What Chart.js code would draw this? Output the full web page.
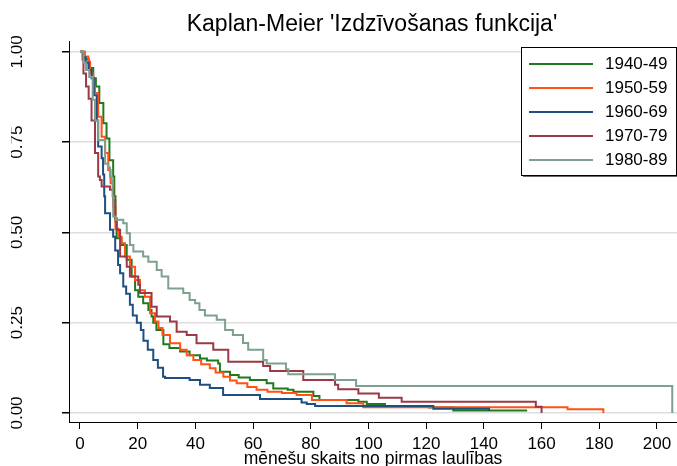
<!DOCTYPE html>
<html>
<head>
<meta charset="utf-8">
<script src="https://cdn.jsdelivr.net/npm/chart.js@4.4.1/dist/chart.umd.min.js"></script>
<style>
  html, body { margin: 0; padding: 0; background: #fff; }
  #wrap { width: 677px; height: 466px; position: relative; }
</style>
</head>
<body>
<div id="wrap"><canvas id="km"></canvas></div>
<script>
const chartTitle = "Kaplan-Meier 'Izdzīvošanas funkcija'";
const xTitle = 'mēnešu skaits no pirmas laulības';

const xTicks = [0, 20, 40, 60, 80, 100, 120, 140, 160, 180, 200];
const yTicks = [0, 0.25, 0.5, 0.75, 1];
const yTickLabels = ['0.00', '0.25', '0.50', '0.75', '1.00'];

const seriesNames = ['1940-49', '1950-59', '1960-69', '1970-79', '1980-89'];
const seriesColors = ['#1f7a1f', '#ff5214', '#1f4f80', '#993a46', '#7f9f8f'];

// laiks (mēneši) un izdzīvošanas vērtība pēc katra soļa
const t1940 = [0, 1.5, 3, 4.6, 5.5, 6.7, 8.1, 9.2, 10.2, 11.5, 11.9, 12.3, 12.7, 14.4, 16.2, 17.9, 19.1, 20.2, 21.9, 23.7, 24.8, 25.4, 26.5, 28.9, 31, 34.7, 38, 41.6, 44, 47.9, 48.5, 52, 55, 58.9, 64.7, 67, 72, 74, 80.9, 83, 96.5, 99.4, 105.7, 121, 129.4, 155];
const s1940 = [1, 0.98, 0.955, 0.927, 0.904, 0.858, 0.802, 0.76, 0.70, 0.655, 0.6, 0.53, 0.484, 0.465, 0.424, 0.378, 0.34, 0.322, 0.304, 0.285, 0.267, 0.25, 0.23, 0.19, 0.18, 0.17, 0.16, 0.151, 0.145, 0.137, 0.114, 0.105, 0.098, 0.091, 0.082, 0.068, 0.064, 0.059, 0.047, 0.036, 0.031, 0.025, 0.019, 0.015, 0.007, 0.007];

const t1950 = [0, 1.7, 2.9, 3.5, 4.6, 5.2, 6.3, 7.5, 8.7, 9.8, 10.6, 11.5, 12.3, 13.3, 14.4, 15.6, 17.3, 19.1, 20.8, 22.5, 24.3, 26, 27.2, 28.6, 31.2, 34.7, 37, 39.3, 42, 45, 47, 49.7, 52, 54.3, 58, 61.2, 65, 70, 75.1, 80.4, 92.4, 98.2, 169, 181.4];
const s1950 = [1, 0.987, 0.973, 0.94, 0.904, 0.886, 0.82, 0.765, 0.72, 0.673, 0.636, 0.57, 0.51, 0.488, 0.47, 0.433, 0.405, 0.368, 0.34, 0.322, 0.276, 0.253, 0.235, 0.216, 0.193, 0.175, 0.16, 0.147, 0.135, 0.124, 0.112, 0.10, 0.09, 0.082, 0.072, 0.064, 0.059, 0.055, 0.05, 0.036, 0.027, 0.016, 0.010, 0];

const t1960 = [0, 1, 2, 3, 4, 4.8, 5.8, 6.3, 7.5, 8.0, 8.4, 8.7, 10.4, 11.5, 12.2, 13.2, 13.9, 15, 16, 17.3, 18.3, 19.7, 21.1, 22, 23.5, 25.4, 27, 28.8, 29.5, 38, 41.6, 45, 49.6, 62.4, 76.8, 78.6, 81.5, 122.5, 141.8];
const s1960 = [1, 0.985, 0.97, 0.95, 0.927, 0.88, 0.81, 0.738, 0.705, 0.66, 0.60, 0.553, 0.507, 0.488, 0.45, 0.41, 0.387, 0.35, 0.33, 0.30, 0.27, 0.25, 0.23, 0.20, 0.175, 0.147, 0.125, 0.10, 0.097, 0.091, 0.078, 0.069, 0.05, 0.039, 0.029, 0.025, 0.019, 0.012, 0.006];

const t1970 = [0, 0.9, 1.2, 2.1, 3, 4, 5.2, 6.3, 6.9, 7.5, 10.4, 11.5, 12.2, 12.7, 13.9, 16.2, 17.3, 20.2, 20.8, 24.8, 26.6, 31.2, 33.5, 37, 40.4, 46.2, 51.4, 63.5, 65.9, 77.4, 88.4, 89.5, 96.5, 103.6, 111.5, 158, 160];
const s1970 = [1, 0.978, 0.94, 0.904, 0.87, 0.81, 0.72, 0.655, 0.645, 0.627, 0.618, 0.59, 0.54, 0.507, 0.433, 0.405, 0.378, 0.355, 0.332, 0.294, 0.267, 0.253, 0.225, 0.216, 0.193, 0.175, 0.142, 0.13, 0.116, 0.091, 0.078, 0.066, 0.054, 0.042, 0.031, 0.0175, 0];

const t1980 = [0, 1.2, 2.1, 3.2, 4.4, 5.2, 6.3, 8.7, 9.8, 10.4, 11, 11.3, 11.5, 12.5, 15, 16.2, 17.3, 18.5, 21.9, 23.7, 26.6, 28.3, 30.6, 35.8, 38, 39.9, 41.4, 43.3, 47.4, 50.3, 53, 56.5, 58.3, 63.5, 64.7, 71.4, 72.2, 88.4, 95.7, 205.3];
const s1980 = [1, 0.97, 0.95, 0.93, 0.867, 0.81, 0.756, 0.69, 0.68, 0.655, 0.645, 0.60, 0.544, 0.535, 0.525, 0.498, 0.465, 0.447, 0.433, 0.419, 0.396, 0.378, 0.345, 0.332, 0.313, 0.304, 0.285, 0.27, 0.258, 0.23, 0.216, 0.194, 0.175, 0.147, 0.137, 0.121, 0.107, 0.091, 0.075, 0];

const seriesTimes = [t1940, t1950, t1960, t1970, t1980];
const seriesSurv = [s1940, s1950, s1960, s1970, s1980];

const FONT = '"Liberation Sans", Arial, sans-serif';

function toPoints(times, surv) {
    return times.map((t, i) => ({ x: t, y: surv[i] }));
}

/**
 * Virsraksts, vertikālās y ass etiķetes un leģenda ar rāmi.
 */
const stataDecor = {
    id: 'stataDecor',
    afterDraw(chart) {
        const ctx = chart.ctx;
        const yScale = chart.scales.y;
        ctx.save();
        ctx.fillStyle = '#000';

        ctx.font = '23px ' + FONT;
        ctx.textAlign = 'center';
        ctx.textBaseline = 'alphabetic';
        ctx.fillText(chartTitle, 372, 31);

        // y etiķetes oriģinālā ir nogrieztas pie kreisās malas
        ctx.save();
        ctx.beginPath();
        ctx.rect(11, 0, 60, 466);
        ctx.clip();
        ctx.font = '17px ' + FONT;
        yTicks.forEach((v, i) => {
            const py = yScale.getPixelForValue(v);
            ctx.save();
            ctx.translate(22, py);
            ctx.rotate(-Math.PI / 2);
            ctx.fillText(yTickLabels[i], 0, 0);
            ctx.restore();
        });
        ctx.restore();

        // leģendas rāmis
        const bx = 521, by = 47, bw = 155, bh = 128;
        ctx.fillStyle = '#fff';
        ctx.fillRect(bx, by, bw, bh);
        ctx.fillStyle = '#6a6a6a';
        ctx.fillRect(bx + 2, by + bh, bw, 2);
        ctx.strokeStyle = '#000';
        ctx.lineWidth = 1;
        ctx.strokeRect(bx + 0.5, by + 0.5, bw, bh);

        ctx.font = '17px ' + FONT;
        ctx.textAlign = 'left';
        ctx.textBaseline = 'middle';
        seriesNames.forEach((name, i) => {
            const ry = 64 + i * 24;
            ctx.strokeStyle = seriesColors[i];
            ctx.lineWidth = 2;
            ctx.beginPath();
            ctx.moveTo(529, ry);
            ctx.lineTo(593, ry);
            ctx.stroke();
            ctx.fillStyle = '#000';
            ctx.fillText(name, 605, ry);
        });
        ctx.restore();
    }
};

const datasets = seriesNames.map((name, i) => ({
    label: name,
    data: toPoints(seriesTimes[i], seriesSurv[i]),
    borderColor: seriesColors[i],
    borderWidth: 2,
    pointRadius: 0,
    fill: false,
    stepped: 'before',
    order: seriesNames.length - i
}));

new Chart(document.getElementById('km'), {
    type: 'line',
    data: { datasets },
    options: {
        responsive: true,
        maintainAspectRatio: false,
        animation: false,
        layout: { padding: { top: 41, left: 0, right: 0, bottom: 0 } },
        plugins: {
            legend: { display: false },
            title: { display: false },
            tooltip: { enabled: false }
        },
        scales: {
            x: {
                type: 'linear',
                min: -3.81,
                max: 206.94,
                afterBuildTicks: scale => { scale.ticks = xTicks.map(v => ({ value: v })); },
                afterFit: scale => { scale.height = 44; },
                grid: { drawOnChartArea: false, drawTicks: true, tickLength: 7, color: '#000' },
                border: { color: '#000', width: 1 },
                ticks: { color: '#000', font: { family: FONT, size: 17 }, padding: 5, maxRotation: 0 },
                title: {
                    display: true,
                    text: xTitle,
                    color: '#000',
                    font: { family: FONT, size: 17.5, lineHeight: 0.8 },
                    padding: { top: 0, bottom: 0 }
                }
            },
            y: {
                type: 'linear',
                min: -0.025,
                max: 1.03,
                afterBuildTicks: scale => { scale.ticks = yTicks.map(v => ({ value: v })); },
                afterFit: scale => { scale.width = 69; },
                grid: { color: '#dedede', lineWidth: 1.5, tickColor: '#000', tickLength: 7 },
                border: { color: '#000', width: 1 },
                ticks: { display: false }
            }
        }
    },
    plugins: [stataDecor]
});
</script>
</body>
</html>
